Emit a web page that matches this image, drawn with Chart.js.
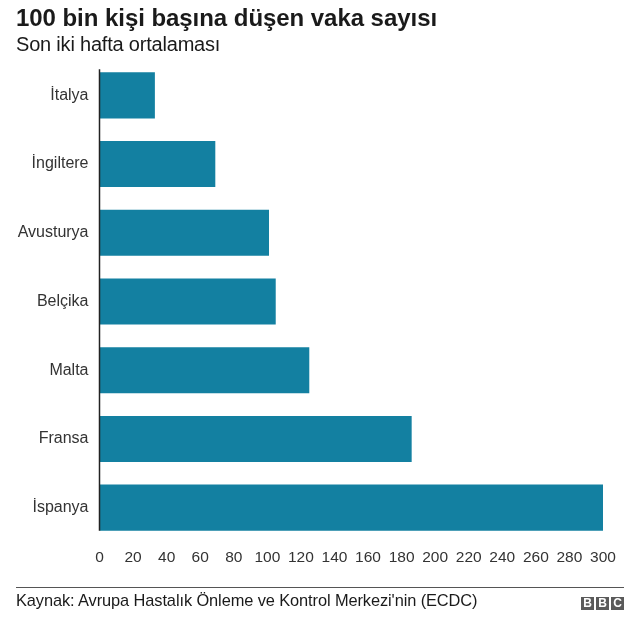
<!DOCTYPE html>
<html>
<head>
<meta charset="utf-8">
<script src="https://cdn.jsdelivr.net/npm/chart.js@4"></script>
<style>
  html, body { margin: 0; padding: 0; background: #fff; }
  body { width: 640px; height: 617px; position: relative; overflow: hidden; font-family: "Liberation Sans", Arial, sans-serif; }
  #title { position: absolute; left: 16px; top: 4px; font-size: 24px; font-weight: bold; color: #1a1a1a; line-height: 28px; white-space: nowrap; letter-spacing: -0.05px; }
  #subtitle { position: absolute; left: 16px; top: 33px; font-size: 20px; color: #1a1a1a; line-height: 22px; white-space: nowrap; letter-spacing: -0.2px; }
  #wrap { position: absolute; left: 0; top: 0; width: 640px; height: 617px; }
  #rule { position: absolute; left: 16px; top: 587px; width: 608px; height: 1px; background: #555; }
  #source { position: absolute; left: 16px; top: 591px; font-size: 16.4px; color: #1a1a1a; line-height: 19px; white-space: nowrap; letter-spacing: -0.1px; }
  #bbc { position: absolute; left: 581px; top: 597px; display: flex; gap: 2px; }
  #bbc span { width: 13px; height: 13px; background: #5a5a5a; color: #fff; font-weight: bold; font-size: 12px; line-height: 13px; text-align: center; }
</style>
</head>
<body>
<div id="wrap"><canvas id="c" width="640" height="617"></canvas></div>
<div id="title">100 bin kişi başına düşen vaka sayısı</div>
<div id="subtitle">Son iki hafta ortalaması</div>
<div id="rule"></div>
<div id="source">Kaynak: Avrupa Hastalık Önleme ve Kontrol Merkezi'nin (ECDC)</div>
<div id="bbc"><span>B</span><span>B</span><span>C</span></div>
<script>
const categories = ["İtalya", "İngiltere", "Avusturya", "Belçika", "Malta", "Fransa", "İspanya"];
const values = [33, 69, 101, 105, 125, 186, 300];
const xTicks = [0, 20, 40, 60, 80, 100, 120, 140, 160, 180, 200, 220, 240, 260, 280, 300];

const axisLine = {
  id: 'axisLine',
  afterDatasetsDraw(chart) {
    const meta = chart.getDatasetMeta(0);
    const first = meta.data[0], last = meta.data[meta.data.length - 1];
    const top = first.y - first.height / 2 - 3;
    const bottom = last.y + last.height / 2;
    const x = chart.scales.x.getPixelForValue(0);
    const ctx = chart.ctx;
    ctx.save();
    ctx.strokeStyle = '#222';
    ctx.lineWidth = 1.5;
    ctx.beginPath();
    ctx.moveTo(x, top);
    ctx.lineTo(x, bottom);
    ctx.stroke();
    ctx.restore();
  }
};

new Chart(document.getElementById('c'), {
  type: 'bar',
  data: {
    labels: categories,
    datasets: [{
      data: values,
      backgroundColor: '#1380A1',
      borderWidth: 0,
      categoryPercentage: 1,
      barPercentage: 0.67
    }]
  },
  plugins: [axisLine],
  options: {
    indexAxis: 'y',
    responsive: false,
    animation: false,
    devicePixelRatio: 1,
    layout: { padding: { top: 61, right: 37, bottom: 45, left: 0 } },
    plugins: { legend: { display: false }, tooltip: { enabled: false } },
    scales: {
      x: {
        min: 0, max: 300,
        afterBuildTicks: (s) => { s.ticks = xTicks.map(v => ({ value: v })); },
        grid: { display: false, drawTicks: false },
        border: { display: false },
        ticks: { color: '#333', font: { family: 'Liberation Sans', size: 15.5 }, padding: 6, maxRotation: 0, autoSkip: false },
        afterFit: (s) => { s.height = 30; }
      },
      y: {
        grid: { display: false, drawTicks: false },
        border: { display: false },
        ticks: { color: '#333', font: { family: 'Liberation Sans', size: 16 }, padding: 11 },
        afterFit: (s) => { s.width = 99.5; }
      }
    }
  }
});
</script>
</body>
</html>
